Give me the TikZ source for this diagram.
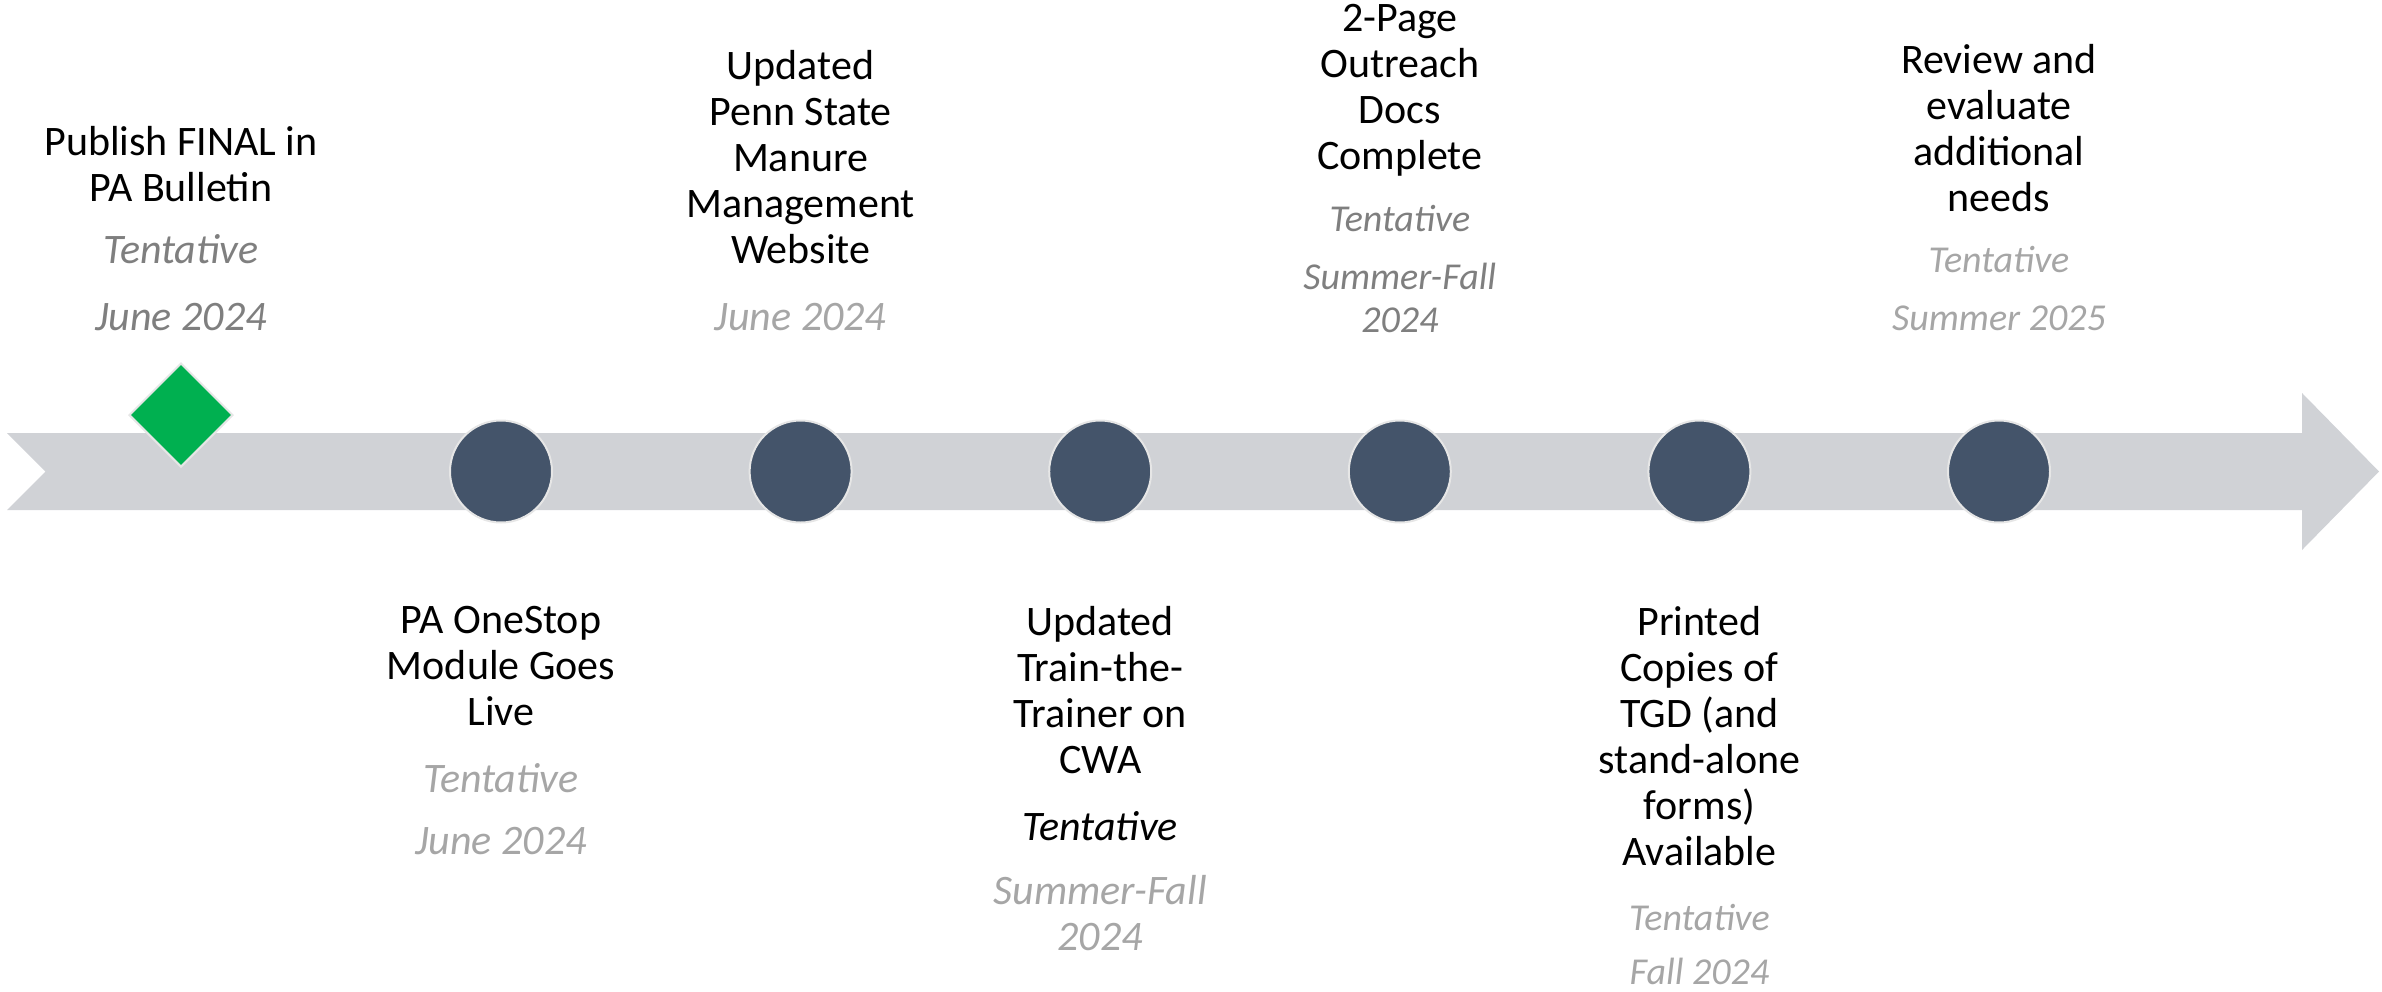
\documentclass[tikz,border=0pt]{standalone}
\usepackage{fontspec}
\setmainfont{Carlito}
\usepackage{tikz}
\usetikzlibrary{shapes.geometric}
\definecolor{barfill}{RGB}{208,210,214}
\definecolor{slate}{RGB}{68,84,106}
\definecolor{rim}{RGB}{230,230,230}
\definecolor{leaf}{RGB}{0,176,80}
\definecolor{dim}{RGB}{127,127,127}
\definecolor{pale}{RGB}{166,166,166}
\newcommand{\when}[2]{{\fontsize{21}{23}\selectfont\itshape\color{#1}#2}}
\newcommand{\whensm}[2]{{\fontsize{19}{21}\selectfont\itshape\color{#1}#2}}

\begin{document}
\begin{tikzpicture}[x=0.5pt, y=-0.5pt, main/.style = {draw=rim, line width=1pt, circle, fill=slate, minimum size=51pt, inner sep=0pt}, goal/.style = {draw=rim, line width=1pt, diamond, aspect=1, fill=leaf, minimum size=52pt, inner sep=0pt}, lbl/.style = {align=center, inner sep=0pt, font=\fontsize{21}{23}\selectfont}]
                \useasboundingbox (0,0) rectangle (2382,991);
                \fill[barfill] (7,433) -- (2302,433) -- (2302,393) -- (2379,471.5) -- (2302,550) -- (2302,510) -- (7,510) -- (45.5,471.5) -- cycle;
                \node[goal] (g0) at (181,415) {};
                \node[main] (m1) at (501,471.5) {};
                \node[main] (m2) at (800.6,471.5) {};
                \node[main] (m3) at (1100.2,471.5) {};
                \node[main] (m4) at (1399.8,471.5) {};
                \node[main] (m5) at (1699.4,471.5) {};
                \node[main] (m6) at (1999,471.5) {};
                \node[lbl, anchor=south] (t0) at (181,331) {Publish FINAL in\\PA Bulletin\\[8pt]\when{dim}{Tentative}\\[10.4pt]\when{dim}{June 2024}};
                \node[lbl, anchor=north] (t1) at (501,606) {PA OneStop\\Module Goes\\Live\\[10.4pt]\when{pale}{Tentative}\\[8pt]\when{pale}{June 2024}};
                \node[lbl, anchor=south] (t2) at (800.6,331) {Updated\\Penn State\\Manure\\Management\\Website\\[10.4pt]\when{pale}{June 2024}};
                \node[lbl, anchor=north] (t3) at (1100.2,606) {Updated\\Train-the-\\Trainer on\\CWA\\[10.4pt]\when{black}{Tentative}\\[8.9pt]\when{pale}{Summer-Fall}\\\when{pale}{2024}};
                \node[lbl, anchor=south] (t4) at (1399.8,333) {2-Page\\Outreach\\Docs\\Complete\\[8pt]\whensm{dim}{Tentative}\\[5.9pt]\whensm{dim}{Summer-Fall}\\[-1.7pt]\whensm{dim}{2024}};
                \node[lbl, anchor=north] (t5) at (1699.4,606) {Printed\\Copies of\\TGD (and\\stand-alone\\forms)\\Available\\[9.7pt]\whensm{pale}{Tentative}\\[3.6pt]\whensm{pale}{Fall 2024}};
                \node[lbl, anchor=south] (t6) at (1999,331) {Review and\\evaluate\\additional\\needs\\[7.4pt]\whensm{pale}{Tentative}\\[5.9pt]\whensm{pale}{Summer 2025}};
            \end{tikzpicture}
\end{document}
